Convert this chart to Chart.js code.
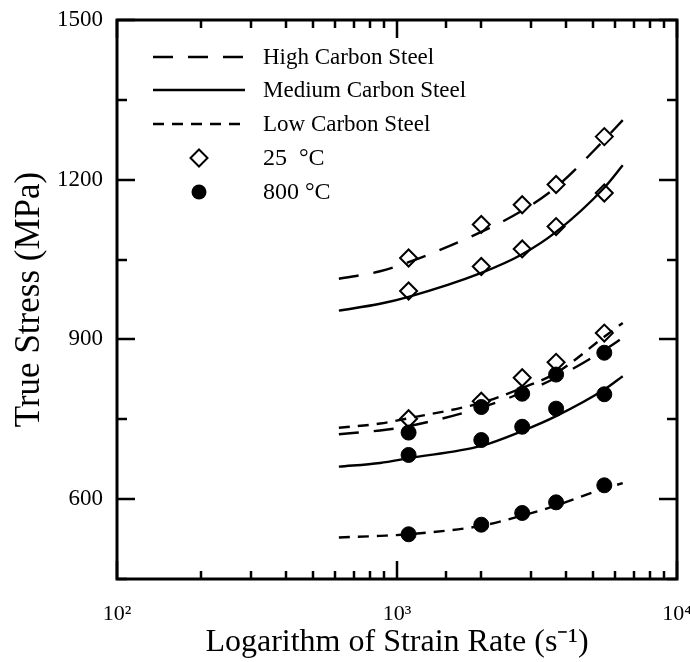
<!DOCTYPE html>
<html>
<head>
<meta charset="utf-8">
<script src="https://cdn.jsdelivr.net/npm/chart.js@4.4.1/dist/chart.umd.min.js"></script>
<style>
  html, body { margin: 0; padding: 0; background: #fff; }
  #wrap { width: 690px; height: 662px; }
</style>
</head>
<body>
<div id="wrap"><canvas id="chart" width="690" height="662"></canvas></div>
<script>
// measured strain rates (s^-1) and true stress (MPa)
const TEST_RATES = [1100, 2000, 2800, 3700, 5500];
const HIGH_25C = [1053, 1116, 1153, 1191, 1281];
const MED_25C = [991, 1037, 1070, 1112, 1175];
const LOW_25C = [751, 784, 828, 857, 912];
const HIGH_800C = [725, 773, 798, 834, 875];
const MED_800C = [683, 711, 736, 770, 797];
const LOW_800C = [534, 552, 574, 594, 626];

// fitted curves
const FIT_RATES = [620, 870, 1100, 2000, 2800, 3700, 5500, 6400];
const HIGH_25C_FIT = [1014, 1028, 1045, 1102, 1142, 1186, 1275, 1312];
const MED_25C_FIT = [954, 967, 980, 1025, 1060, 1102, 1185, 1227];
const LOW_25C_FIT = [734, 742, 752, 781, 809, 837, 905, 931];
const HIGH_800C_FIT = [722, 729, 737, 772, 800, 828, 880, 903];
const MED_800C_FIT = [661, 668, 677, 700, 728, 756, 806, 831];
const LOW_800C_FIT = [528, 531, 534, 550, 569, 588, 620, 630];

const Y_MIN = 450, Y_MAX = 1500, Y_STEP = 150, Y_LABEL_STEP = 300;
const X_MIN = 100, X_MAX = 10000;

const SERIF = "'Liberation Serif', 'Times New Roman', serif";
const DASH_LONG = [20, 15];
const DASH_SHORT = [11, 8];
const SUP = { 2: '\u00B2', 3: '\u00B3', 4: '\u2074' };

function pairs(xs, ys) {
    return xs.map((x, i) => ({ x: x, y: ys[i] }));
}

function fitLine(label, ys, dash) {
    return {
        type: 'line',
        label: label,
        data: pairs(FIT_RATES, ys),
        borderColor: '#000',
        borderWidth: 2.4,
        borderDash: dash,
        pointRadius: 0,
        fill: false,
        cubicInterpolationMode: 'monotone'
    };
}

function markers(label, ys, filled) {
    return {
        type: 'scatter',
        label: label,
        data: pairs(TEST_RATES, ys),
        pointStyle: filled ? 'circle' : 'rectRot',
        pointRadius: filled ? 7.5 : 8.5,
        pointBackgroundColor: filled ? '#000' : 'rgba(0,0,0,0)',
        pointBorderColor: '#000',
        pointBorderWidth: filled ? 1 : 2,
        showLine: false
    };
}

// frame with inward ticks on all sides, plus the legend
const framePlugin = {
    id: 'frame',
    afterDraw(chart) {
        const { ctx, chartArea: a, scales } = chart;
        const x = scales.x, y = scales.y;
        ctx.save();
        ctx.strokeStyle = '#000';
        ctx.lineWidth = 2.5;
        ctx.setLineDash([]);
        ctx.beginPath();
        y.ticks.forEach(t => {
            const py = Math.round(y.getPixelForValue(t.value));
            const len = t.value % Y_LABEL_STEP === 0 ? 18 : 10;
            ctx.moveTo(a.left, py); ctx.lineTo(a.left + len, py);
            ctx.moveTo(a.right, py); ctx.lineTo(a.right - len, py);
        });
        x.ticks.forEach(t => {
            const px = Math.round(x.getPixelForValue(t.value));
            const e = Math.log10(t.value);
            const len = Math.abs(e - Math.round(e)) < 1e-9 ? 18 : 8;
            ctx.moveTo(px, a.bottom); ctx.lineTo(px, a.bottom - len);
            ctx.moveTo(px, a.top); ctx.lineTo(px, a.top + len);
        });
        ctx.stroke();
        ctx.lineWidth = 3;
        ctx.strokeRect(a.left, a.top, a.right - a.left, a.bottom - a.top);

        // legend
        const lx0 = 153, lx1 = 245, tx = 263;
        const rows = [
            { text: 'High Carbon Steel', y: 57, dash: DASH_LONG },
            { text: 'Medium Carbon Steel', y: 90, dash: [] },
            { text: 'Low Carbon Steel', y: 124, dash: DASH_SHORT },
            { text: '25  \u00B0C', y: 158, marker: 'diamond' },
            { text: '800 \u00B0C', y: 192, marker: 'dot' }
        ];
        ctx.fillStyle = '#000';
        ctx.textBaseline = 'middle';
        ctx.textAlign = 'left';
        rows.forEach(r => {
            if (r.marker === 'diamond') {
                const cx = (lx0 + lx1) / 2, s = 8.5;
                ctx.setLineDash([]);
                ctx.lineWidth = 2;
                ctx.beginPath();
                ctx.moveTo(cx - s, r.y); ctx.lineTo(cx, r.y - s);
                ctx.lineTo(cx + s, r.y); ctx.lineTo(cx, r.y + s);
                ctx.closePath();
                ctx.stroke();
            } else if (r.marker === 'dot') {
                ctx.beginPath();
                ctx.arc((lx0 + lx1) / 2, r.y, 7.5, 0, Math.PI * 2);
                ctx.fill();
            } else {
                ctx.setLineDash(r.dash);
                ctx.lineWidth = 2.4;
                ctx.beginPath();
                ctx.moveTo(lx0, r.y); ctx.lineTo(lx1, r.y);
                ctx.stroke();
            }
            ctx.setLineDash([]);
            ctx.font = (r.marker ? 24 : 23) + 'px ' + SERIF;
            ctx.fillText(r.text, tx, r.y + 1);
        });
        ctx.restore();
    }
};

const ctx = document.getElementById('chart').getContext('2d');
const chart = new Chart(ctx, {
    data: {
        datasets: [
            fitLine('High Carbon Steel 25', HIGH_25C_FIT, DASH_LONG),
            fitLine('Medium Carbon Steel 25', MED_25C_FIT, []),
            fitLine('Low Carbon Steel 25', LOW_25C_FIT, DASH_SHORT),
            fitLine('High Carbon Steel 800', HIGH_800C_FIT, DASH_LONG),
            fitLine('Medium Carbon Steel 800', MED_800C_FIT, []),
            fitLine('Low Carbon Steel 800', LOW_800C_FIT, DASH_SHORT),
            markers('High 25 °C', HIGH_25C, false),
            markers('Medium 25 °C', MED_25C, false),
            markers('Low 25 °C', LOW_25C, false),
            markers('High 800 °C', HIGH_800C, true),
            markers('Medium 800 °C', MED_800C, true),
            markers('Low 800 °C', LOW_800C, true)
        ]
    },
    options: {
        responsive: false,
        animation: false,
        devicePixelRatio: 1,
        layout: { padding: { top: 20, right: 13, left: 0, bottom: 0 } },
        plugins: {
            legend: { display: false },
            tooltip: { enabled: false }
        },
        scales: {
            x: {
                type: 'logarithmic',
                min: X_MIN,
                max: X_MAX,
                grid: { display: false },
                border: { display: false },
                ticks: {
                    autoSkip: false,
                    maxRotation: 0,
                    padding: 14,
                    color: '#000',
                    font: { family: SERIF, size: 22 },
                    callback: function(v) {
                        const e = Math.log10(v);
                        const r = Math.round(e);
                        return Math.abs(e - r) < 1e-9 ? '10' + SUP[r] : '';
                    }
                },
                title: {
                    display: true,
                    text: 'Logarithm of Strain Rate (s\u207B\u00B9)',
                    color: '#000',
                    font: { family: SERIF, size: 32 },
                    padding: { top: 0, bottom: 0 }
                },
                afterFit: function(scale) {
                    scale.height = 83;
                    scale.paddingLeft = 0;
                    scale.paddingRight = 0;
                }
            },
            y: {
                type: 'linear',
                min: Y_MIN,
                max: Y_MAX,
                grid: { display: false },
                border: { display: false },
                ticks: {
                    stepSize: Y_STEP,
                    autoSkip: false,
                    padding: 6,
                    color: '#000',
                    font: { family: SERIF, size: 23 },
                    callback: function(v) { return v % Y_LABEL_STEP === 0 ? String(v) : ''; }
                },
                title: {
                    display: true,
                    text: 'True Stress (MPa)',
                    color: '#000',
                    font: { family: SERIF, size: 35 },
                    padding: { top: 9, bottom: 0 }
                },
                afterFit: function(scale) {
                    scale.width = 117;
                    scale.paddingTop = 0;
                    scale.paddingBottom = 0;
                }
            }
        }
    },
    plugins: [framePlugin]
});
</script>
</body>
</html>
